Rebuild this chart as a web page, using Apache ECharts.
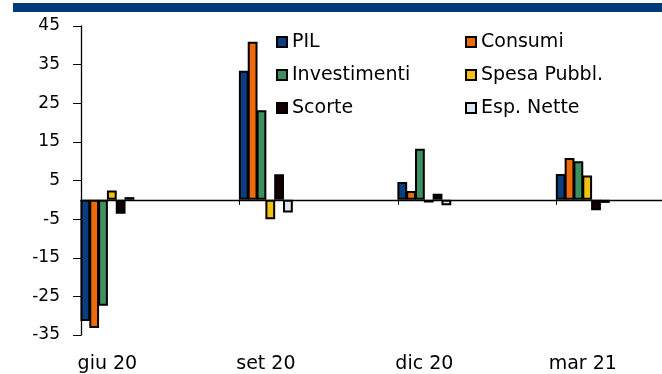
<!DOCTYPE html>
<html>
<head>
<meta charset="utf-8">
<script src="https://cdn.jsdelivr.net/npm/echarts@6/dist/echarts.min.js"></script>
<style>
    html, body {margin: 0; padding: 0; background: #fff;}
    #main {width: 662px; height: 374px;}
</style>
</head>
<body>
<div id="main"></div>
<script>
// trimestri (ogni trimestre occupa 3 posizioni sull'asse)
var quarters = ['giu 20', 'set 20', 'dic 20', 'mar 21'];
var slotCount = 11;

var pil = [-31.4, 33.4, 4.6, 6.7];
var consumi = [-33.2, 40.9, 2.3, 10.8];
var investimenti = [-27.4, 23.2, 13.2, 10.0];
var spesaPubbl = [2.4, -5.0, -0.7, 6.3];
var scorte = [-3.6, 6.6, 1.6, -2.7];
var espNette = [0.7, -3.3, -1.4, -0.8];

var yTicks = [-35, -25, -15, -5, 5, 15, 25, 35, 45];

var categories = [];
for (var i = 0; i < slotCount; i++) {
    categories.push(i % 3 == 0 && quarters[i / 3] ? quarters[i / 3] : '');
}

function toSlots(values) {
    var out = [];
    for (var i = 0; i < slotCount; i++) out.push(null);
    for (var q = 0; q < values.length; q++) out[q * 3] = values[q];
    return out;
}

function barSeries(name, values, color) {
    return {
        name: name,
        type: 'bar',
        xAxisIndex: 0,
        data: toSlots(values),
        barWidth: 9.8,
        barGap: '-10%',
        itemStyle: {color: color, borderColor: '#000', borderWidth: 2}
    };
}

var font = 'DejaVu Sans';
var myChart = echarts.init(document.getElementById('main'));

var legendBase = {
    orient: 'vertical',
    top: 27,
    icon: 'rect',
    itemWidth: 10,
    itemHeight: 10,
    itemGap: 13,
    textStyle: {fontFamily: font, fontSize: 19, color: '#000', lineHeight: 20},
    itemStyle: {borderColor: '#000', borderWidth: 2}
};

var option = {
    animation: false,
    graphic: [{
        type: 'rect',
        shape: {x: 13, y: 3, width: 649, height: 9},
        style: {fill: '#003B7A'}
    }],
    legend: [
        Object.assign({}, legendBase, {data: ['PIL', 'Investimenti', 'Scorte'], left: 271}),
        Object.assign({}, legendBase, {data: ['Consumi', 'Spesa Pubbl.', 'Esp. Nette'], left: 460})
    ],
    grid: {left: 81, right: 0, top: 26, bottom: 38, containLabel: false},
    xAxis: [
        {
            type: 'category',
            data: categories,
            axisLine: {onZero: true, lineStyle: {color: '#000', width: 1.3}},
            axisTick: {show: true, interval: 2, length: 5, inside: false, lineStyle: {color: '#000'}},
            axisLabel: {show: false}
        },
        {
            type: 'category',
            data: categories,
            position: 'bottom',
            axisLine: {show: false, onZero: false},
            axisTick: {show: false},
            axisLabel: {interval: 0, margin: 20, fontFamily: font, fontSize: 19, color: '#000'}
        }
    ],
    yAxis: {
        type: 'value',
        min: yTicks[0],
        max: yTicks[yTicks.length - 1],
        interval: 10,
        axisLine: {show: true, lineStyle: {color: '#000', width: 1.3}},
        axisTick: {show: true, length: 8, lineStyle: {color: '#000'}},
        splitLine: {show: false},
        axisLabel: {margin: 21, fontFamily: font, fontSize: 17, color: '#000'}
    },
    series: [
        barSeries('PIL', pil, '#0B3E7E'),
        barSeries('Consumi', consumi, '#EE6A0A'),
        barSeries('Investimenti', investimenti, '#3F9060'),
        barSeries('Spesa Pubbl.', spesaPubbl, '#F1C20F'),
        barSeries('Scorte', scorte, '#120000'),
        barSeries('Esp. Nette', espNette, '#DCE6F2')
    ]
};
myChart.setOption(option);
</script>
</body>
</html>
